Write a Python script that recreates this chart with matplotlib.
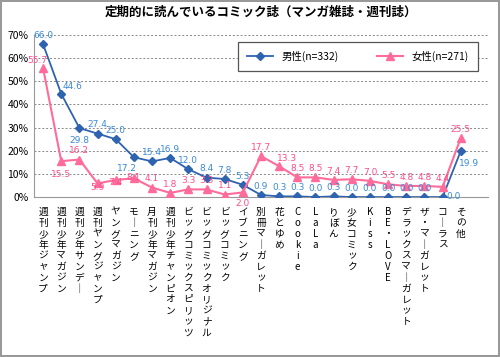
import matplotlib.pyplot as plt
from matplotlib.ticker import MultipleLocator, PercentFormatter

plt.rcParams['font.family'] = ['Noto Sans CJK JP', 'DejaVu Sans']

magazines = ["週刊少年ジャンプ", "週刊少年マガジン", "週刊少年サンデー", "週刊ヤングジャンプ",
             "ヤングマガジン", "モーニング", "月刊少年マガジン", "週刊少年チャンピオン",
             "ビッグコミックスピリッツ", "ビッグコミックオリジナル", "ビッグコミック", "イブニング",
             "別冊マーガレット", "花とゆめ", "Cookie", "LaLa", "りぼん", "少女コミック",
             "Kiss", "BE・LOVE", "デラックスマーガレット", "ザ・マーガレット", "コーラス", "その他"]
male = [66.0, 44.6, 29.8, 27.4, 25.0, 17.2, 15.4, 16.9, 12.0, 8.4, 7.8, 5.3,
        0.9, 0.3, 0.3, 0.0, 0.3, 0.0, 0.0, 0.0, 0.0, 0.0, 0.0, 19.9]
female = [55.7, 15.5, 16.2, 5.9, 7.4, 8.1, 4.1, 1.8, 3.3, 3.3, 1.1, 2.0,
          17.7, 13.3, 8.5, 8.5, 7.4, 7.7, 7.0, 5.5, 4.8, 4.8, 4.4, 25.5]
male_name = "男性(n=332)"
female_name = "女性(n=271)"

blue = "#2e63b0"
blue_txt = "#3a8ad6"
pink = "#ff6b9a"
pink_txt = "#ff4d8a"

fig = plt.figure(figsize=(5.0, 3.57), dpi=100)
fig.patch.set_edgecolor("#999999")
fig.patch.set_linewidth(1.5)
ax = fig.add_axes([0.068, 0.448, 0.908, 0.454])

x = list(range(len(magazines)))
ax.plot(x, male, color=blue, marker="D", markersize=4.5, linewidth=1.3, label=male_name, zorder=3)
ax.plot(x, female, color=pink, marker="^", markersize=6, linewidth=1.5, label=female_name, zorder=3)

# ラベル位置の微調整
m_off = {1: (8, 2), 2: (0, -12), 5: (-5, -11), 22: (8, -3), 23: (6, -12)}
f_off = {0: (-4, 2), 1: (0, -13), 3: (0, -6), 4: (0, -5), 5: (0, -3), 11: (0, -11), 13: (6, 2)}
for i, v in enumerate(male):
    dx, dy = m_off.get(i, (0, 3))
    ax.annotate(f"{v:.1f}", (i, v), xytext=(dx, dy), textcoords="offset points",
                ha="center", va="bottom", fontsize=6.5, color=blue_txt, family="DejaVu Sans")
for i, v in enumerate(female):
    dx, dy = f_off.get(i, (0, 3))
    ax.annotate(f"{v:.1f}", (i, v), xytext=(dx, dy), textcoords="offset points",
                ha="center", va="bottom", fontsize=6.5, color=pink_txt, family="DejaVu Sans")

ax.set_xlim(-0.5, len(magazines) + 0.5)
ax.set_ylim(0, 70)
ax.yaxis.set_major_locator(MultipleLocator(10))
ax.yaxis.set_major_formatter(PercentFormatter(decimals=0))
ax.grid(axis="y", linestyle=(0, (2, 2)), color="#888888", linewidth=0.7)
ax.set_axisbelow(True)
for s in ["top", "right"]:
    ax.spines[s].set_visible(False)
ax.spines["left"].set_color("#999999")
ax.spines["bottom"].set_color("#999999")
ax.tick_params(axis="y", length=0, labelsize=7.5, pad=4)
ax.tick_params(axis="x", length=0, pad=7)

vert = ["\n".join(m.replace("ー", "｜")) for m in magazines]
ax.set_xticks(x)
ax.set_xticklabels(vert, fontsize=7, va="top", linespacing=1.12)

ax.set_title("定期的に読んでいるコミック誌（マンガ雑誌・週刊誌）", fontsize=9, pad=14, fontweight="bold")

leg = ax.legend(loc="center", bbox_to_anchor=(0.449, 0.784, 0.529, 0.166), mode="expand",
                ncol=2, fontsize=7.5, frameon=True, fancybox=False, shadow=False,
                handlelength=2.5, borderaxespad=0, framealpha=1, borderpad=0.9)
leg.get_frame().set_edgecolor("#555555")
leg.get_frame().set_linewidth(0.9)

plt.savefig("out.png", dpi=100)
